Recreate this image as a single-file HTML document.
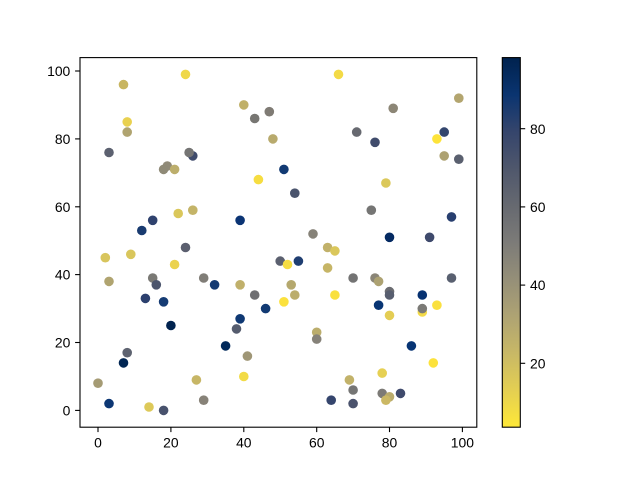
<!DOCTYPE html>
<html><head><meta charset="utf-8"><style>
html,body{margin:0;padding:0;background:#fff;}
svg{display:block;}
text{font-family:"Liberation Sans",sans-serif;font-size:13.9px;fill:#000;}
</style></head><body>
<svg width="640" height="480" viewBox="0 0 640 480" xmlns="http://www.w3.org/2000/svg">
<defs>
<linearGradient id="cb" x1="0" y1="0" x2="0" y2="1">
<stop offset="0" stop-color="#00224e"/>
<stop offset="0.1" stop-color="#0a3470"/>
<stop offset="0.2" stop-color="#35456c"/>
<stop offset="0.3" stop-color="#4f576c"/>
<stop offset="0.4" stop-color="#666970"/>
<stop offset="0.5" stop-color="#7c7b78"/>
<stop offset="0.6" stop-color="#958f78"/>
<stop offset="0.7" stop-color="#aea373"/>
<stop offset="0.8" stop-color="#c8b866"/>
<stop offset="0.9" stop-color="#e4cf52"/>
<stop offset="1" stop-color="#fee838"/>
</linearGradient>
<clipPath id="ax"><rect x="80" y="57.6" width="396.8" height="369.6"/></clipPath>
</defs>
<rect width="640" height="480" fill="#fff"/>
<g clip-path="url(#ax)">
<g>
<circle cx="185.5" cy="74.4" r="4.8" fill="#efd84a"/>
<circle cx="123.5" cy="84.6" r="4.8" fill="#c8b560"/>
<circle cx="243.8" cy="104.9" r="4.8" fill="#c0b068"/>
<circle cx="269.3" cy="111.7" r="4.8" fill="#7f7b74"/>
<circle cx="254.7" cy="118.5" r="4.8" fill="#777672"/>
<circle cx="272.9" cy="138.9" r="4.8" fill="#b8aa6d"/>
<circle cx="127.2" cy="121.9" r="4.8" fill="#e9d150"/>
<circle cx="127.2" cy="132.1" r="4.8" fill="#b0a470"/>
<circle cx="109.0" cy="152.5" r="4.8" fill="#5c6170"/>
<circle cx="192.8" cy="155.9" r="4.8" fill="#3f4b6c"/>
<circle cx="189.1" cy="152.5" r="4.8" fill="#757574"/>
<circle cx="167.3" cy="166.0" r="4.8" fill="#908a78"/>
<circle cx="163.6" cy="169.4" r="4.8" fill="#8f8a77"/>
<circle cx="174.6" cy="169.4" r="4.8" fill="#bcae6c"/>
<circle cx="258.4" cy="179.6" r="4.8" fill="#f6dd41"/>
<circle cx="178.2" cy="213.5" r="4.8" fill="#dac75b"/>
<circle cx="192.8" cy="210.2" r="4.8" fill="#c4b468"/>
<circle cx="152.7" cy="220.3" r="4.8" fill="#2f426e"/>
<circle cx="141.8" cy="230.5" r="4.8" fill="#193b70"/>
<circle cx="240.1" cy="220.3" r="4.8" fill="#0b3474"/>

<circle cx="338.5" cy="74.4" r="4.8" fill="#f3da46"/>
<circle cx="458.8" cy="98.2" r="4.8" fill="#b3a56f"/>
<circle cx="393.2" cy="108.3" r="4.8" fill="#8c8676"/>
<circle cx="356.7" cy="132.1" r="4.8" fill="#676970"/>
<circle cx="375.0" cy="142.3" r="4.8" fill="#404c6c"/>
<circle cx="444.2" cy="132.1" r="4.8" fill="#33466e"/>
<circle cx="436.9" cy="138.9" r="4.8" fill="#fde33a"/>
<circle cx="444.2" cy="155.9" r="4.8" fill="#ada171"/>
<circle cx="458.8" cy="159.2" r="4.8" fill="#5a606f"/>
<circle cx="283.9" cy="169.4" r="4.8" fill="#123a73"/>
<circle cx="385.9" cy="183.0" r="4.8" fill="#dbc85a"/>
<circle cx="294.8" cy="193.2" r="4.8" fill="#4a546d"/>
<circle cx="371.3" cy="210.2" r="4.8" fill="#757574"/>
<circle cx="451.5" cy="216.9" r="4.8" fill="#283f6f"/>
<circle cx="313.0" cy="233.9" r="4.8" fill="#868278"/>
<circle cx="389.5" cy="237.3" r="4.8" fill="#042a62"/>
<circle cx="429.6" cy="237.3" r="4.8" fill="#3f4a6c"/>

<circle cx="185.5" cy="247.5" r="4.8" fill="#5b5f6f"/>
<circle cx="105.3" cy="257.7" r="4.8" fill="#d8c55d"/>
<circle cx="130.8" cy="254.3" r="4.8" fill="#d9c65c"/>
<circle cx="174.6" cy="264.5" r="4.8" fill="#ebd24e"/>
<circle cx="280.2" cy="261.1" r="4.8" fill="#5b606f"/>
<circle cx="109.0" cy="281.4" r="4.8" fill="#b0a470"/>
<circle cx="152.7" cy="278.0" r="4.8" fill="#7a7975"/>
<circle cx="156.3" cy="284.8" r="4.8" fill="#4c556d"/>
<circle cx="203.7" cy="278.0" r="4.8" fill="#807d77"/>
<circle cx="214.6" cy="284.8" r="4.8" fill="#153a72"/>
<circle cx="240.1" cy="284.8" r="4.8" fill="#c0b06b"/>
<circle cx="254.7" cy="295.0" r="4.8" fill="#6f6f72"/>
<circle cx="145.4" cy="298.4" r="4.8" fill="#2c406e"/>
<circle cx="163.6" cy="301.8" r="4.8" fill="#153b73"/>
<circle cx="265.6" cy="308.6" r="4.8" fill="#123a73"/>
<circle cx="240.1" cy="318.8" r="4.8" fill="#0f3873"/>
<circle cx="236.5" cy="328.9" r="4.8" fill="#555c6e"/>
<circle cx="170.9" cy="325.5" r="4.8" fill="#01234f"/>
<circle cx="225.6" cy="345.9" r="4.8" fill="#022a5b"/>
<circle cx="127.2" cy="352.7" r="4.8" fill="#5e6370"/>
<circle cx="123.5" cy="362.9" r="4.8" fill="#012653"/>
<circle cx="247.4" cy="356.1" r="4.8" fill="#9f9676"/>
<circle cx="243.8" cy="376.5" r="4.8" fill="#f2db47"/>
<circle cx="196.4" cy="379.9" r="4.8" fill="#c7b666"/>
<circle cx="98.0" cy="383.2" r="4.8" fill="#a59b74"/>
<circle cx="203.7" cy="400.2" r="4.8" fill="#878278"/>
<circle cx="109.0" cy="403.6" r="4.8" fill="#0d3774"/>
<circle cx="149.0" cy="407.0" r="4.8" fill="#ddc959"/>
<circle cx="163.6" cy="410.4" r="4.8" fill="#48526d"/>

<circle cx="327.6" cy="247.5" r="4.8" fill="#c1b16a"/>
<circle cx="334.9" cy="250.9" r="4.8" fill="#dac75b"/>
<circle cx="287.5" cy="264.5" r="4.8" fill="#f5dd43"/>
<circle cx="298.4" cy="261.1" r="4.8" fill="#1f3e71"/>
<circle cx="327.6" cy="267.9" r="4.8" fill="#c6b566"/>
<circle cx="291.2" cy="284.8" r="4.8" fill="#b5a86e"/>
<circle cx="294.8" cy="295.0" r="4.8" fill="#bbad6c"/>
<circle cx="283.9" cy="301.8" r="4.8" fill="#fbe13d"/>
<circle cx="334.9" cy="295.0" r="4.8" fill="#f9e03e"/>
<circle cx="353.1" cy="278.0" r="4.8" fill="#737373"/>
<circle cx="375.0" cy="278.0" r="4.8" fill="#8a8577"/>
<circle cx="378.6" cy="281.4" r="4.8" fill="#ada272"/>
<circle cx="389.5" cy="291.6" r="4.8" fill="#6b6c71"/>
<circle cx="389.5" cy="295.0" r="4.8" fill="#585e6f"/>
<circle cx="378.6" cy="305.2" r="4.8" fill="#083574"/>
<circle cx="389.5" cy="315.4" r="4.8" fill="#e4cd54"/>
<circle cx="422.3" cy="295.0" r="4.8" fill="#063171"/>
<circle cx="422.3" cy="312.0" r="4.8" fill="#f3da48"/>
<circle cx="422.3" cy="308.6" r="4.8" fill="#7b7a76"/>
<circle cx="436.9" cy="305.2" r="4.8" fill="#fae03f"/>
<circle cx="451.5" cy="278.0" r="4.8" fill="#596070"/>
<circle cx="316.7" cy="332.3" r="4.8" fill="#bbad6c"/>
<circle cx="316.7" cy="339.1" r="4.8" fill="#868279"/>
<circle cx="411.4" cy="345.9" r="4.8" fill="#073474"/>
<circle cx="433.3" cy="362.9" r="4.8" fill="#fce23c"/>
<circle cx="382.2" cy="373.1" r="4.8" fill="#e6d053"/>
<circle cx="349.4" cy="379.9" r="4.8" fill="#c2b26a"/>
<circle cx="353.1" cy="390.0" r="4.8" fill="#757574"/>
<circle cx="382.2" cy="393.4" r="4.8" fill="#7c7a76"/>
<circle cx="389.5" cy="396.8" r="4.8" fill="#b9ab6c"/>
<circle cx="385.9" cy="400.2" r="4.8" fill="#cbb864"/>
<circle cx="400.5" cy="393.4" r="4.8" fill="#3f4a6c"/>
<circle cx="331.2" cy="400.2" r="4.8" fill="#35456d"/>
<circle cx="353.1" cy="403.6" r="4.8" fill="#4b536d"/>
</g>
</g>
<rect x="80" y="57.6" width="396.8" height="369.6" fill="none" stroke="#000" stroke-width="1.1"/>

<g stroke="#000" stroke-width="1.1">
<line x1="98.0" y1="427.2" x2="98.0" y2="432.1"/>
<line x1="170.9" y1="427.2" x2="170.9" y2="432.1"/>
<line x1="243.8" y1="427.2" x2="243.8" y2="432.1"/>
<line x1="316.7" y1="427.2" x2="316.7" y2="432.1"/>
<line x1="389.5" y1="427.2" x2="389.5" y2="432.1"/>
<line x1="462.4" y1="427.2" x2="462.4" y2="432.1"/>
<line x1="80" y1="410.4" x2="75.1" y2="410.4"/>
<line x1="80" y1="342.5" x2="75.1" y2="342.5"/>
<line x1="80" y1="274.6" x2="75.1" y2="274.6"/>
<line x1="80" y1="206.8" x2="75.1" y2="206.8"/>
<line x1="80" y1="138.9" x2="75.1" y2="138.9"/>
<line x1="80" y1="71.0" x2="75.1" y2="71.0"/>
</g>
<g text-anchor="middle">
<text x="98.0" y="447.5">0</text>
<text x="170.9" y="447.5">20</text>
<text x="243.8" y="447.5">40</text>
<text x="316.7" y="447.5">60</text>
<text x="389.5" y="447.5">80</text>
<text x="462.4" y="447.5">100</text>
</g>
<g text-anchor="end">
<text x="70.3" y="415.5">0</text>
<text x="70.3" y="347.6">20</text>
<text x="70.3" y="279.7">40</text>
<text x="70.3" y="211.9">60</text>
<text x="70.3" y="144.0">80</text>
<text x="70.3" y="76.1">100</text>
</g>

<rect x="502.3" y="57.6" width="18" height="369.6" fill="url(#cb)"/>
<rect x="502.3" y="57.6" width="18" height="369.6" fill="none" stroke="#000" stroke-width="1.1"/>
<g stroke="#000" stroke-width="1.1">
<line x1="520.3" y1="128.7" x2="525.2" y2="128.7"/>
<line x1="520.3" y1="206.9" x2="525.2" y2="206.9"/>
<line x1="520.3" y1="285.1" x2="525.2" y2="285.1"/>
<line x1="520.3" y1="363.3" x2="525.2" y2="363.3"/>
</g>
<g text-anchor="start">
<text x="530" y="133.8">80</text>
<text x="530" y="212.0">60</text>
<text x="530" y="290.2">40</text>
<text x="530" y="368.4">20</text>
</g>
</svg>
</body></html>
